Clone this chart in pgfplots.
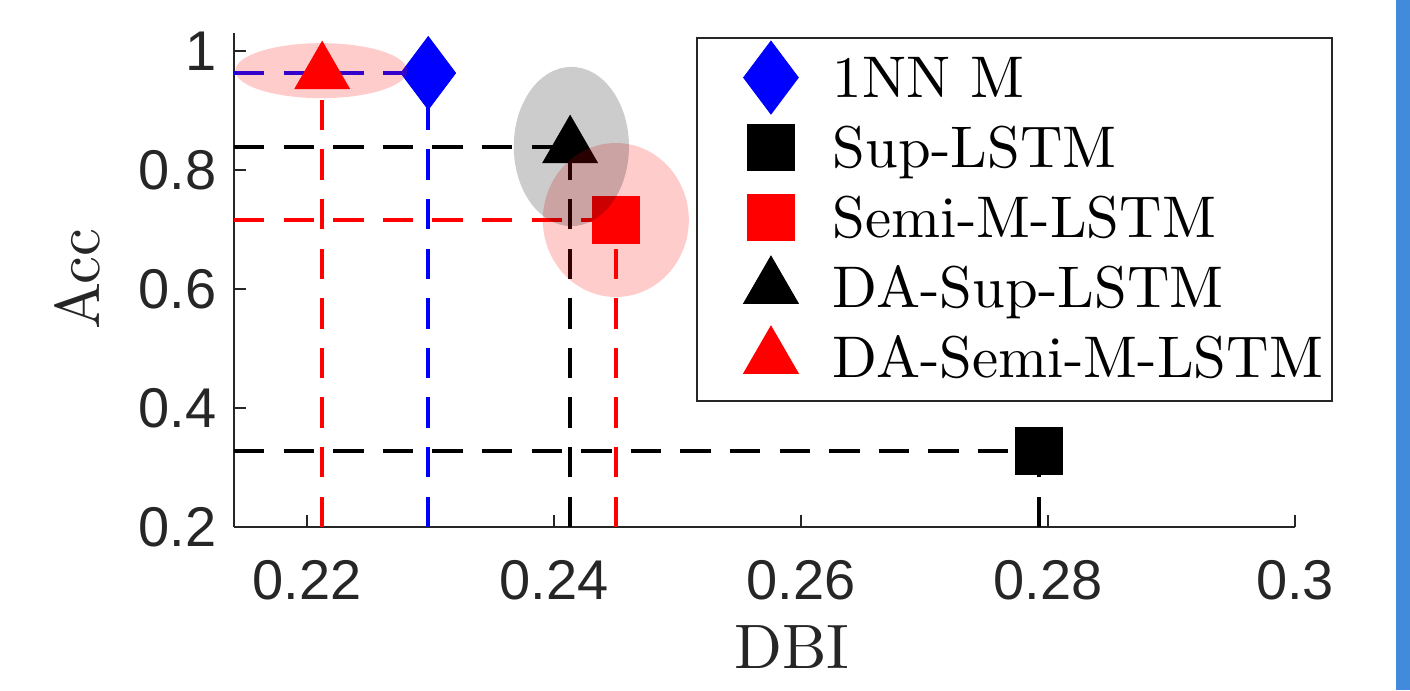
\documentclass[border=0pt]{standalone}
\usepackage{fontspec}
\usepackage{pgfplots}
\pgfplotsset{compat=1.18}
\newfontfamily\ticksfont{Liberation Sans}
\newfontfamily\cmten{lmroman10-regular.otf}
\definecolor{axgray}{RGB}{38,38,38}
\definecolor{barblue}{RGB}{66,139,218}
\begin{document}
\begin{tikzpicture}
\useasboundingbox (0,0) rectangle (352.5pt,172.5pt);
\fill[barblue] (349pt,0pt) rectangle (352.5pt,172.5pt);
\begin{axis}[
  at={(58.5pt,40.75pt)}, anchor=south west,
  scale only axis, width=265.25pt, height=123.5pt,
  xmin=0.21408, xmax=0.3, ymin=0.2, ymax=1.0303,
  axis x line*=bottom, axis y line*=left,
  axis line style={axgray, line width=0.5pt},
  tick align=inside, major tick length=3pt,
  tick style={axgray, line width=0.5pt},
  xtick={0.22,0.24,0.26,0.28,0.3}, xticklabels={0.22,0.24,0.26,0.28,0.3},
  ytick={0.2,0.4,0.6,0.8,1}, yticklabels={0.2,0.4,0.6,0.8,1},
  ticklabel style={font=\ticksfont\fontsize{14}{16}\selectfont, text=axgray},
  xticklabel style={yshift=-4.8pt},
  yticklabel style={xshift=-0.8pt},
  xlabel={DBI}, ylabel={Acc},
  label style={font=\cmten\fontsize{15.7}{18}\selectfont, text=axgray},
  xlabel style={at={(axis description cs:0.526,-0.287)}, anchor=base},
  ylabel style={at={(axis description cs:-0.1263,0.502)}, anchor=base},
  legend style={at={(axis description cs:0.4354,0.9919)}, anchor=north west,
    draw=axgray, line width=0.5pt, font=\cmten\fontsize{14.7}{17}\selectfont,
    inner xsep=2.2pt, inner ysep=1.6pt, row sep=0pt, column sep=0pt,
    nodes={inner sep=0pt, text height=13.2pt, text depth=4.3pt, anchor=base west}},
  legend cell align=left,
  legend image code/.code={\path[draw=none, fill=none] (0pt,-4.3pt) rectangle (31.8pt,13.2pt); \draw[#1, overlay] plot coordinates {(16.3pt,4.9pt)};},
  guide/.style={forget plot, line width=1pt, dash pattern=on 7.6pt off 4.8pt, mark=none},
]
% guide lines
\addplot[guide, red] coordinates {(0.21408,0.963) (0.22122,0.963)};
\addplot[guide, red] coordinates {(0.22122,0.2) (0.22122,0.963)};
\addplot[guide, blue] coordinates {(0.21408,0.963) (0.22981,0.963)};
\addplot[guide, blue] coordinates {(0.22981,0.2) (0.22981,0.963)};
\addplot[guide, black] coordinates {(0.21408,0.8387) (0.2413,0.8387)};
\addplot[guide, black] coordinates {(0.2413,0.2) (0.2413,0.8387)};
\addplot[guide, red] coordinates {(0.21408,0.716) (0.2450,0.716)};
\addplot[guide, red] coordinates {(0.2450,0.2) (0.2450,0.716)};
\addplot[guide, black] coordinates {(0.21408,0.3277) (0.27927,0.3277)};
\addplot[guide, black] coordinates {(0.27927,0.2) (0.27927,0.3277)};
% markers
\addplot[blue, mark=diamond*, mark size=9.125pt, mark options={solid, fill=blue, line width=0.2pt}] coordinates {(0.22981,0.963)};
\addlegendentry{1NN M}
\addplot[black, mark=square*, mark size=5.81pt, mark options={solid, fill=black, line width=0.2pt}] coordinates {(0.27927,0.3277)};
\addlegendentry{Sup-LSTM}
\addplot[red, mark=square*, mark size=5.81pt, mark options={solid, fill=red, line width=0.2pt}] coordinates {(0.2450,0.716)};
\addlegendentry{Semi-M-LSTM}
\addplot[black, mark=triangle*, mark size=7.9pt, mark options={solid, fill=black, line width=0.2pt}] coordinates {(0.2413,0.8387)};
\addlegendentry{DA-Sup-LSTM}
\addplot[red, mark=triangle*, mark size=7.9pt, mark options={solid, fill=red, line width=0.2pt}] coordinates {(0.22122,0.963)};
\addlegendentry{DA-Semi-M-LSTM}
% highlight ellipses
\addplot[forget plot, mark=*, mark size=1pt, mark options={fill=red, fill opacity=0.2, draw opacity=0, xscale=21.5, yscale=6.875}] coordinates {(0.22115,0.967)};
\addplot[forget plot, mark=*, mark size=1pt, mark options={fill=red, fill opacity=0.2, draw opacity=0, xscale=18.25, yscale=19.25}] coordinates {(0.2450,0.716)};
\addplot[forget plot, mark=*, mark size=1pt, mark options={fill=black, fill opacity=0.2, draw opacity=0, xscale=14.4, yscale=19.9}] coordinates {(0.2414,0.8395)};
\end{axis}
\end{tikzpicture}
\end{document}
